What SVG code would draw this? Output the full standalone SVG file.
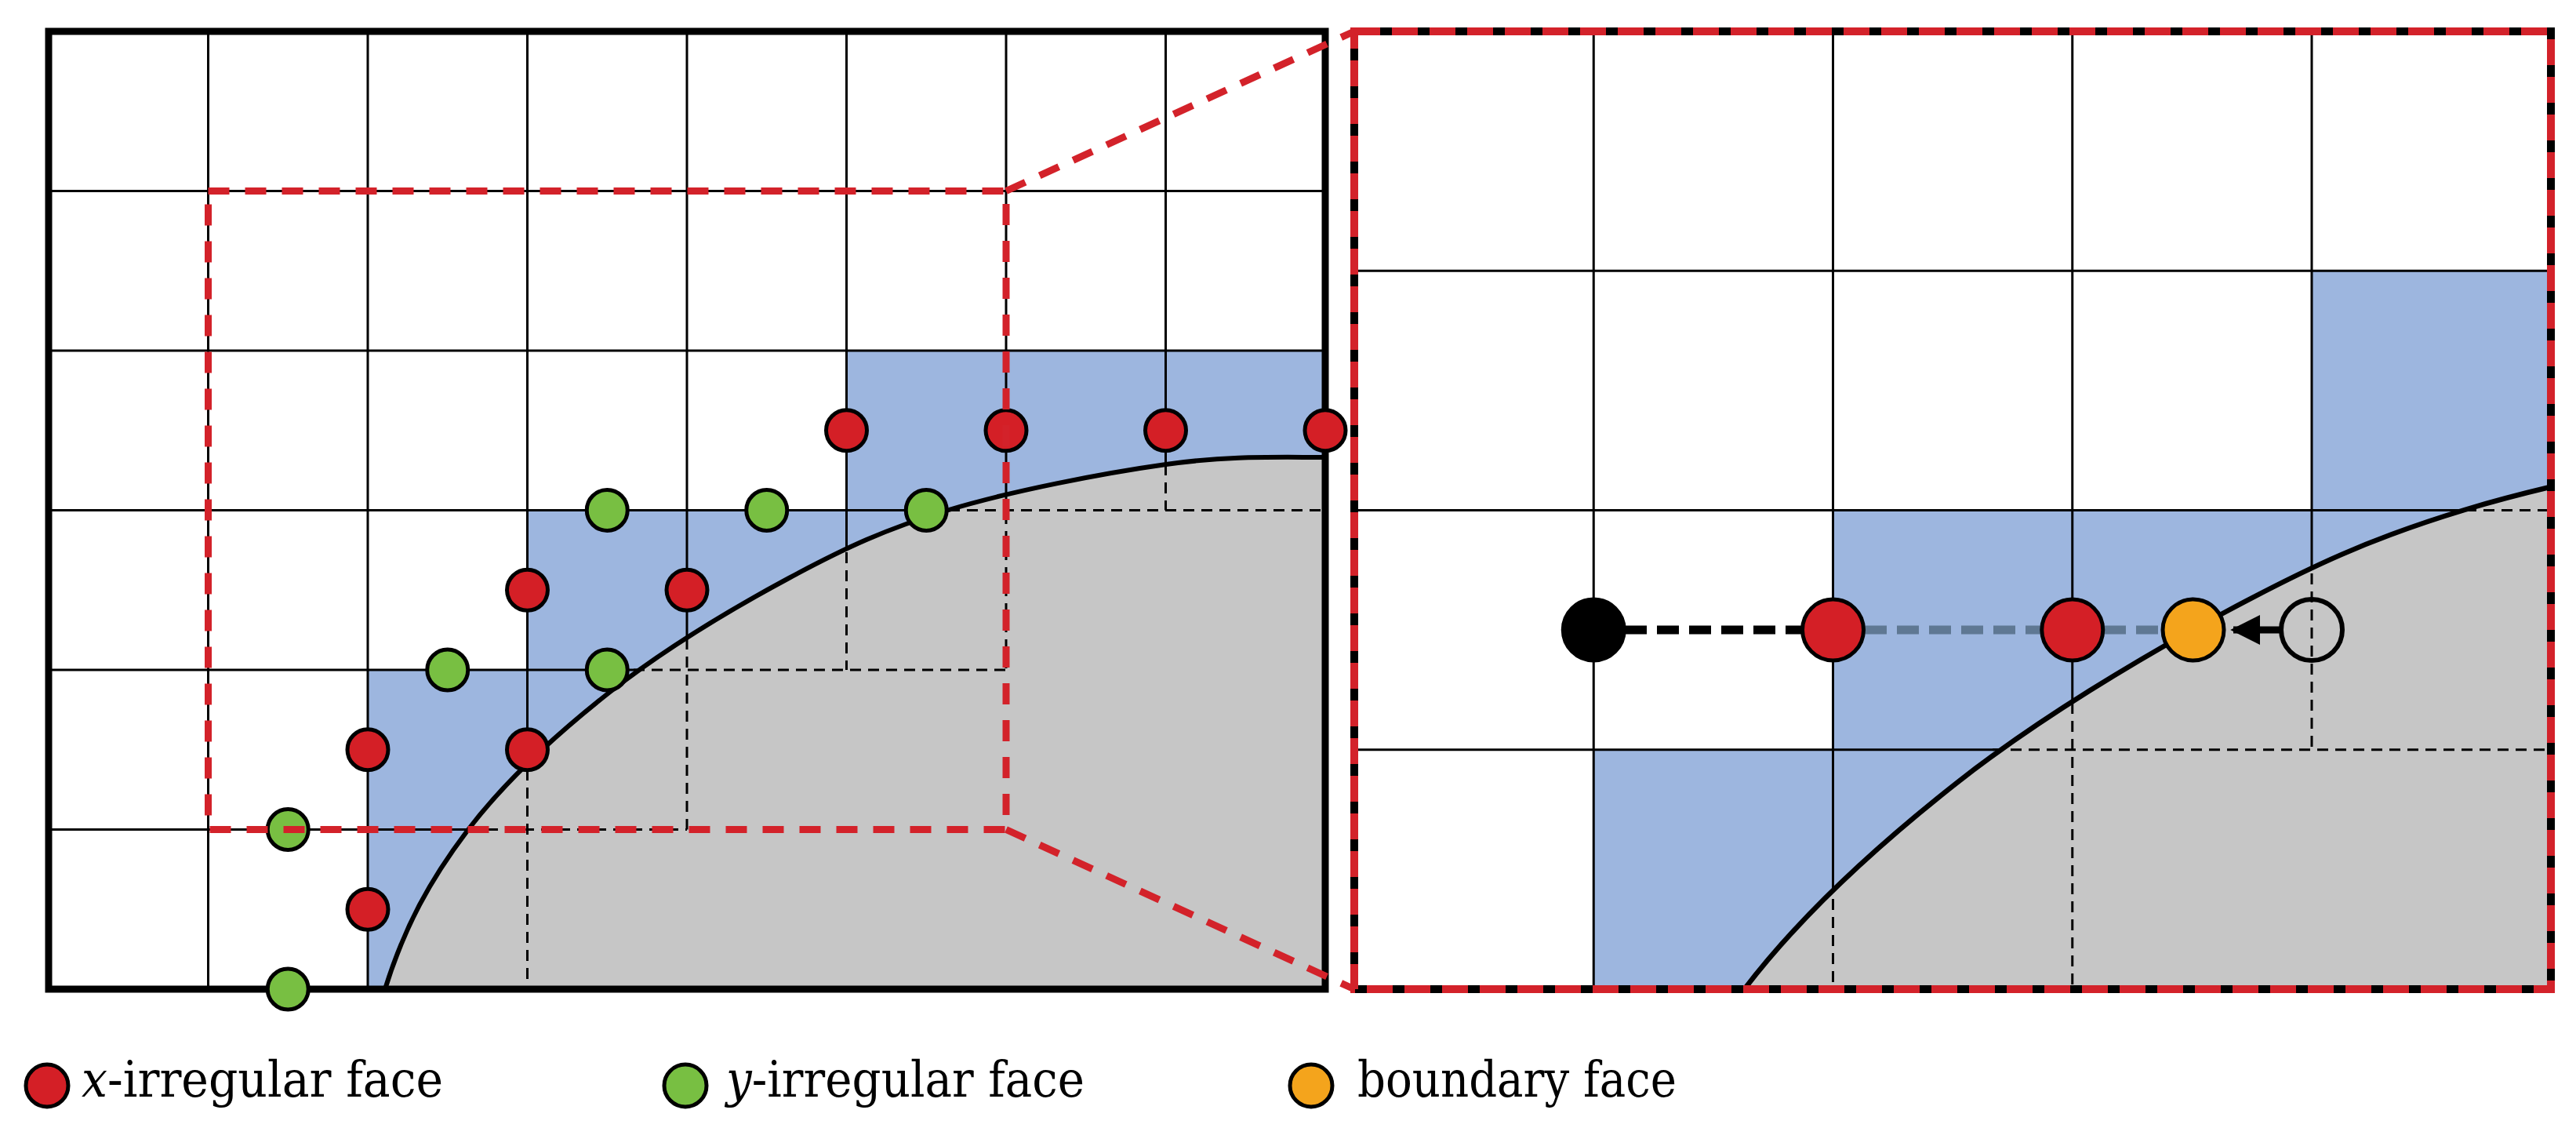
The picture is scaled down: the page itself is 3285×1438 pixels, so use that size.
<svg xmlns="http://www.w3.org/2000/svg" xmlns:xlink="http://www.w3.org/1999/xlink" width="3285" height="1438" viewBox="0 0 3285 1438">
<style>
.blue{fill:#9db6df;stroke:none}
.gray{fill:#c6c6c6;stroke:none}
.grid{stroke:#000;stroke-width:3;fill:none}
.dash{stroke:#000;stroke-width:3;fill:none;stroke-dasharray:14 9}
.curve{fill:none;stroke:#000;stroke-width:6}
.curveR{fill:none;stroke:#000;stroke-width:4.3}
.border{fill:none;stroke:#000;stroke-width:9}
.redrect{fill:none;stroke:#d3222a;stroke-width:9;stroke-dasharray:27 20}
.rbk{fill:none;stroke:#000;stroke-width:10}
.rrd{fill:none;stroke:#d3222a;stroke-width:10;stroke-dasharray:33 15}
.xf{fill:#d41f26;stroke:#000;stroke-width:5}
.yf{fill:#78bf42;stroke:#000;stroke-width:5}
.bf{fill:#f4a41c;stroke:#000;stroke-width:5}
.blk{fill:#000;stroke:#000;stroke-width:5}
.hol{fill:none;stroke:#000;stroke-width:6}
.lbl{font-family:"DejaVu Serif","Liberation Serif",serif;font-size:64px;fill:#000}
.zoomline{stroke:#d3222a;stroke-width:9;stroke-dasharray:27 20;fill:none}
.bkdash{stroke:#000;stroke-width:11;stroke-dasharray:28 13;fill:none}
.bgdash{stroke:#5f7893;stroke-width:11;stroke-dasharray:28 13;fill:none}
.arrow{stroke:#000;stroke-width:9;fill:none}
</style>
<defs>
<path id="curvePath" d="M491,1261 C516,1181 548.2,1122.2 596,1059 C643.8,995.8 709.7,935.7 778,882 C846.3,828.3 934,775.7 1006,737 C1078,698.3 1129.8,674.2 1210,650 C1290.2,625.8 1407,603.2 1487,592 C1567,580.8 1623,583 1690,583"/>
<path id="grayPath" d="M491,1261 C516,1181 548.2,1122.2 596,1059 C643.8,995.8 709.7,935.7 778,882 C846.3,828.3 934,775.7 1006,737 C1078,698.3 1129.8,674.2 1210,650 C1290.2,625.8 1407,603.2 1487,592 C1567,580.8 1623,583 1690,583 L1690,1261 Z"/>
<path id="bluePath" d="M1079.5,447 H1690 V1261 H469 V854 H672.5 V650.5 H1079.5 Z"/>
<clipPath id="clipR" clipPathUnits="userSpaceOnUse"><rect x="1727" y="40" width="1526" height="1221"/></clipPath>
<marker id="ah" viewBox="0 0 10 10" refX="9" refY="5" markerWidth="4.2" markerHeight="4.2" orient="auto" markerUnits="strokeWidth"><path d="M0,0 L10,5 L0,10 Z" fill="#000"/></marker>
</defs>
<rect x="0" y="0" width="3285" height="1438" fill="#fff"/>

<g id="left-panel">
<use xlink:href="#bluePath" class="blue"/>
<g class="grid">
<path d="M265.5,40V1261 M469,40V1261 M672.5,40V1261 M876,40V1261 M1079.5,40V1261 M1283,40V1261 M1486.5,40V1261"/>
<path d="M62,243.5H1690 M62,447H1690 M62,650.5H1690 M62,854H1690 M62,1057.5H1690"/>
</g>
<use xlink:href="#grayPath" class="gray"/>
<g class="dash">
<path d="M672.5,981V1261 M876,814V1057.5 M1079.5,704V854 M1283,631V854 M1486.5,592V650.5"/>
<path d="M1210,650.5H1690 M808,854H1283 M598,1057.5H876"/>
</g>
<use xlink:href="#curvePath" class="curve"/>
<rect class="border" x="62" y="40" width="1628" height="1221"/>
</g>

<g id="right-panel">
<g clip-path="url(#clipR)">
<g transform="matrix(1.5 0 0 1.5 1328.75 -325.25)"><use xlink:href="#bluePath" class="blue"/></g>
<g class="grid">
<path d="M2032.25,40V1261 M2337.5,40V1261 M2642.75,40V1261 M2948,40V1261"/>
<path d="M1727,345.25H3253 M1727,650.5H3253 M1727,955.75H3253"/>
</g>
<g transform="matrix(1.5 0 0 1.5 1328.75 -325.25)"><use xlink:href="#grayPath" class="gray"/></g>
<g class="dash">
<path d="M2337.5,1146V1261 M2642.75,896V1261 M2948,731V955.75"/>
<path d="M2541,955.75H3253 M3144,650.5H3253"/>
</g>
<g transform="matrix(1.5 0 0 1.5 1328.75 -325.25)"><use xlink:href="#curvePath" class="curveR"/></g>
</g>
</g>

<g id="nodes">
<g id="xface-1"><circle class="xf" cx="1079.5" cy="548.75" r="26"/></g>
<g id="xface-2"><circle class="xf" cx="1283" cy="548.75" r="26"/></g>
<g id="xface-3"><circle class="xf" cx="1486.5" cy="548.75" r="26"/></g>
<g id="xface-4"><circle class="xf" cx="1690" cy="548.75" r="26"/></g>
<g id="xface-5"><circle class="xf" cx="672.5" cy="752.25" r="26"/></g>
<g id="xface-6"><circle class="xf" cx="876" cy="752.25" r="26"/></g>
<g id="xface-7"><circle class="xf" cx="469" cy="955.75" r="26"/></g>
<g id="xface-8"><circle class="xf" cx="672.5" cy="955.75" r="26"/></g>
<g id="xface-9"><circle class="xf" cx="469" cy="1159.25" r="26"/></g>
<g id="yface-1"><circle class="yf" cx="774.25" cy="650.5" r="26"/></g>
<g id="yface-2"><circle class="yf" cx="977.75" cy="650.5" r="26"/></g>
<g id="yface-3"><circle class="yf" cx="1181.25" cy="650.5" r="26"/></g>
<g id="yface-4"><circle class="yf" cx="570.75" cy="854" r="26"/></g>
<g id="yface-5"><circle class="yf" cx="774.25" cy="854" r="26"/></g>
<g id="yface-6"><circle class="yf" cx="367.25" cy="1057.5" r="26"/></g>
<g id="yface-7"><circle class="yf" cx="367.25" cy="1261" r="26"/></g>
</g>

<g id="zoom-frames">
<rect class="redrect" x="265.5" y="243.5" width="1017.5" height="814"/>
<rect class="rbk" x="1727" y="40" width="1526" height="1221"/>
<rect class="rrd" x="1727" y="40" width="1526" height="1221"/>
</g>

<g id="connectors">
<path class="zoomline" d="M1283,243.5 L1727,40"/>
<path class="zoomline" d="M1283,1057.5 L1727,1261"/>
<path class="bkdash" d="M2072,803H2298"/>
<path class="bgdash" d="M2378,803H2602"/>
<path class="bgdash" d="M2683,803H2757"/>
<path class="arrow" d="M2908,803H2848" marker-end="url(#ah)"/>
</g>

<g id="zoom-nodes">
<g id="src-node"><circle class="blk" cx="2032.25" cy="803" r="39"/></g>
<g id="xface-z1"><circle class="xf" cx="2337.5" cy="803" r="39"/></g>
<g id="xface-z2"><circle class="xf" cx="2642.75" cy="803" r="39"/></g>
<g id="bface-z"><circle class="bf" cx="2797" cy="803" r="39"/></g>
<g id="ghost-node"><circle class="hol" cx="2948" cy="803" r="39"/></g>
</g>

<g id="legend">
<g id="legend-x"><circle class="xf" cx="60" cy="1384" r="27"/><text class="lbl" x="104" y="1398" textLength="461" lengthAdjust="spacingAndGlyphs"><tspan font-style="italic">x</tspan>-irregular face</text></g>
<g id="legend-y"><circle class="yf" cx="874" cy="1384" r="27"/><text class="lbl" x="926" y="1398" textLength="457" lengthAdjust="spacingAndGlyphs"><tspan font-style="italic">y</tspan>-irregular face</text></g>
<g id="legend-b"><circle class="bf" cx="1672" cy="1384" r="27"/><text class="lbl" x="1731" y="1398" textLength="407" lengthAdjust="spacingAndGlyphs">boundary face</text></g>
</g>
</svg>
